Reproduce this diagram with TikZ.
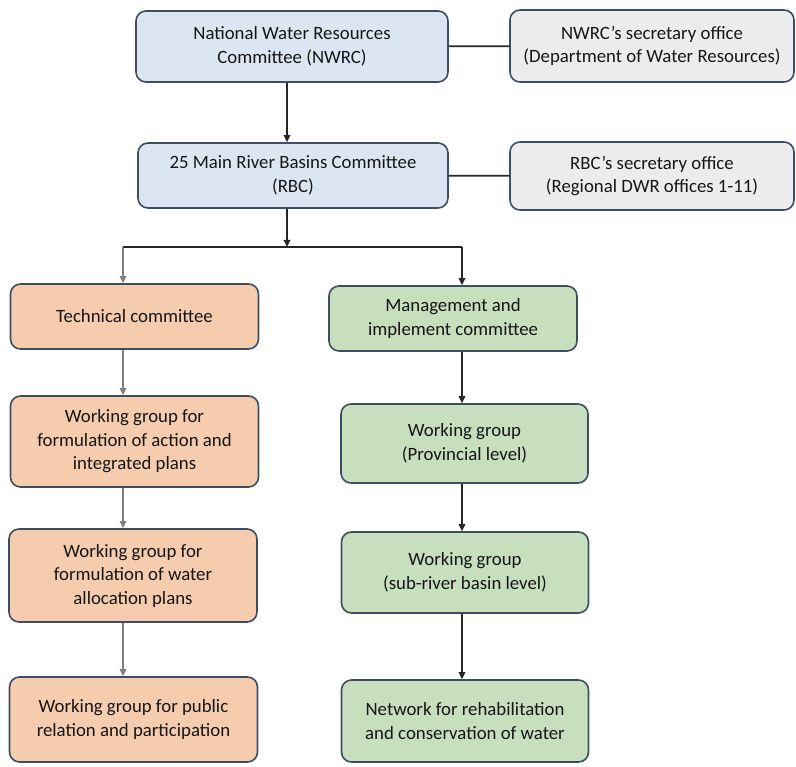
\documentclass[tikz,border=0pt]{standalone}
\usepackage{fontspec}
\setmainfont{Carlito}
\usetikzlibrary{arrows.meta}
\definecolor{boxline}{RGB}{62,78,98}
\definecolor{bluefill}{RGB}{220,230,242}
\definecolor{greyfill}{RGB}{236,236,236}
\definecolor{orangefill}{RGB}{246,204,175}
\definecolor{greenfill}{RGB}{200,223,190}
\definecolor{txt}{RGB}{22,22,22}
\definecolor{gray}{rgb}{0.5,0.5,0.5}

\tikzset{
  >={Triangle[length=7pt,width=6.5pt]},
  box/.style={draw=boxline, line width=1.6pt, rounded corners=10pt, align=center,
    inner sep=0pt, text=txt, font=\fontsize{18.8}{23.5}\selectfont},
  blue box/.style={box, fill=bluefill},
  grey box/.style={box, fill=greyfill},
  orange box/.style={box, fill=orangefill, minimum width=248pt},
  green box/.style={box, fill=greenfill, minimum width=247pt},
  link/.style={line width=1.7pt, black!85},
  glink/.style={line width=1.1pt, gray},
}

\begin{document}
\begin{tikzpicture}[x=1pt,y=-1pt]
			\useasboundingbox (0,0) rectangle (796,767);
			%Comites
			\node[blue box, minimum width=312pt, minimum height=71pt] (nwrc) at (292,46.5) {National Water Resources\\Committee (NWRC)};
			\node[grey box, minimum width=284pt, minimum height=72pt] (nwrcsec) at (652,46) {NWRC’s secretary office\\(Department of Water Resources)};
			\node[blue box, minimum width=310pt, minimum height=65pt] (rbc) at (293,175.5) {25 Main River Basins Committee\\(RBC)};
			\node[grey box, minimum width=284pt, minimum height=68pt] (rbcsec) at (652,176) {RBC’s secretary office\\(Regional DWR offices 1-11)};
			
			%Coluna esquerda
			\node[orange box, minimum height=65pt] (tech) at (134.5,316.5) {Technical committee};
			\node[orange box, minimum height=91pt] (wgact) at (134.5,441.5) {Working group for\\formulation of action and\\integrated plans};
			\node[orange box, minimum height=93pt] (wgalloc) at (133,575.5) {Working group for\\formulation of water\\allocation plans};
			\node[orange box, minimum height=85pt] (wgpub) at (133.5,719.5) {Working group for public\\relation and participation};
			
			%Coluna direita
			\node[green box, minimum width=248pt, minimum height=65pt] (mgmt) at (453,318.5) {Management and\\implement committee};
			\node[green box, minimum height=79pt] (wgprov) at (464.5,443.5) {Working group\\(Provincial level)};
			\node[green box, minimum height=81pt] (wgsub) at (465,572.5) {Working group\\(sub-river basin level)};
			\node[green box, minimum height=82pt] (network) at (465,721) {Network for rehabilitation\\and conservation of water};
			
			%Ligacoes
			\coordinate (top) at (287,0);
			\coordinate (branch) at (287,247);
			\coordinate (lcol) at (123,0);
			\coordinate (rcol) at (462,0);
			\draw[link] (nwrc) -- (nwrcsec);
			\draw[link] (rbc) -- (rbcsec);
			\draw[link, ->] (nwrc.south -| top) -- (rbc.north -| top);
			\draw[link, ->] (rbc.south -| top) -- (branch);
			\draw[link] (lcol |- branch) -- (rcol |- branch);
			\draw[glink, ->] (lcol |- branch) -- (tech.north -| lcol);
			\draw[link, ->] (rcol |- branch) -- (mgmt.north -| rcol);
			
			\draw[glink, ->] (tech.south -| lcol) -- (wgact.north -| lcol);
			\draw[glink, ->] (wgact.south -| lcol) -- (wgalloc.north -| lcol);
			\draw[glink, ->] (wgalloc.south -| lcol) -- (wgpub.north -| lcol);
			
			\draw[link, ->] (mgmt.south -| rcol) -- (wgprov.north -| rcol);
			\draw[link, ->] (wgprov.south -| rcol) -- (wgsub.north -| rcol);
			\draw[link, ->] (wgsub.south -| rcol) -- (network.north -| rcol);
\end{tikzpicture}
\end{document}
